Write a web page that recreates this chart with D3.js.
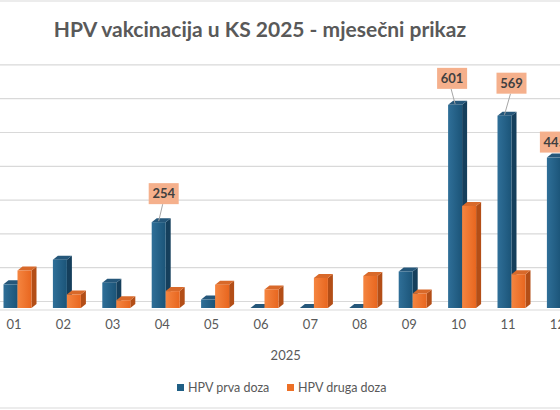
<!doctype html>
<html>
<head>
	<meta charset='utf-8'/>
	<script src="https://d3js.org/d3.v7.min.js"></script>
	<style>
		body { margin: 0; background: #fff; }
		text { font-family: Lato, "Open Sans", sans-serif; }
	</style>
</head>
<body>
	<div id="chart"></div>
	<script>
		// data
		var months = ["01", "02", "03", "04", "05", "06", "07", "08", "09", "10", "11", "12"];
		var series = ["HPV prva doza", "HPV druga doza"];
		var prvaDoza = [70, 143, 75, 254, 25, 0, 0, 0, 108, 601, 569, 445];
		var drugaDoza = [111, 40, 23, 50, 69, 55, 89, 95, 43, 302, 100, 90];
		var yTicks = [0, 100, 200, 300, 400, 500, 600, 700];
		var labelled = ["04", "10", "11", "12"];
		var yearLabel = "2025";
		var title = "HPV vakcinacija u KS 2025 - mjesečni prikaz";

		var width = 560,
			height = 410;
		var depthX = 5, depthY = -4;
		var wallShift = 6.5;

		var svg = d3.select("#chart").append("svg")
			.attr("width", width)
			.attr("height", height);

		var defs = svg.append("defs");
		function grad(id, c1, c2) {
			var g = defs.append("linearGradient").attr("id", id)
				.attr("x1", "0%").attr("x2", "100%").attr("y1", "0%").attr("y2", "0%");
			g.append("stop").attr("offset", "0%").attr("stop-color", c1);
			g.append("stop").attr("offset", "100%").attr("stop-color", c2);
		}
		grad("gBlue", "#2f6f98", "#1b5478");
		grad("gOrange", "#f58540", "#e8661f");

		// chart frame (sides cropped)
		svg.append("rect")
			.attr("x", -2).attr("y", 1)
			.attr("width", width + 4).attr("height", 407)
			.attr("fill", "#fff")
			.attr("stroke", "#d9d9d9");

		var x = d3.scaleBand().domain(months).range([-10.7, 582.1]).padding(0);
		var xs = d3.scaleBand().domain(series).range([-10.5, 17.5]).padding(0);
		var y = d3.scaleLinear().domain([0, 700]).range([308, 308 - 700 * 0.338]);

		// back wall gridlines
		svg.append("g").selectAll("line")
			.data(yTicks)
			.join("line")
			.attr("x1", 0).attr("x2", width)
			.attr("y1", function(d) { return y(d) - wallShift; })
			.attr("y2", function(d) { return y(d) - wallShift; })
			.attr("stroke", "#d9d9d9")
			.attr("stroke-width", 1.2);
		// floor front edge
		svg.append("line")
			.attr("x1", 0).attr("x2", width)
			.attr("y1", y(0) + 2).attr("y2", y(0) + 2)
			.attr("stroke", "#d9d9d9")
			.attr("stroke-width", 1.2);

		var rows = [];
		months.forEach(function(m, i) {
			rows.push({ m: m, s: series[0], v: prvaDoza[i] });
			rows.push({ m: m, s: series[1], v: drugaDoza[i] });
		});

		var faces = {};
		faces[series[0]] = { front: "url(#gBlue)", top: "#25577a", side: "#153f5c" };
		faces[series[1]] = { front: "url(#gOrange)", top: "#d8692a", side: "#b34e17" };

		var bars = svg.append("g").selectAll("g")
			.data(rows)
			.join("g");

		bars.each(function(d) {
			var g = d3.select(this);
			var x0 = x(d.m) + x.bandwidth() / 2 + xs(d.s);
			var w = xs.bandwidth();
			var yt = y(d.v), yb = y(0);
			var f = faces[d.s];
			// side
			g.append("path")
				.attr("d", "M" + (x0 + w) + "," + yt + "L" + (x0 + w + depthX) + "," + (yt + depthY) +
					"L" + (x0 + w + depthX) + "," + (yb + depthY) + "L" + (x0 + w) + "," + yb + "Z")
				.attr("fill", f.side);
			// top
			g.append("path")
				.attr("d", "M" + x0 + "," + yt + "L" + (x0 + depthX) + "," + (yt + depthY) +
					"L" + (x0 + w + depthX) + "," + (yt + depthY) + "L" + (x0 + w) + "," + yt + "Z")
				.attr("fill", f.top);
			// front
			if (d.v > 0) {
				g.append("rect")
					.attr("x", x0).attr("y", yt)
					.attr("width", w).attr("height", yb - yt)
					.attr("fill", f.front);
			}
		});

		// data labels with leader lines
		var labOffset = { "04": [5, 18], "10": [-3, 16], "11": [7, 22], "12": [1, 5] };
		var labs = svg.append("g").selectAll("g")
			.data(labelled)
			.join("g");
		labs.each(function(m) {
			var i = months.indexOf(m);
			var v = prvaDoza[i];
			var bx = x(m) + x.bandwidth() / 2 + xs(series[0]) + xs.bandwidth() / 2;
			var off = labOffset[m];
			var cx = bx + off[0];
			var bottom = y(v) - off[1];
			var g = d3.select(this);
			if (off[1] > 8) {
				g.append("line")
					.attr("x1", cx - 1).attr("y1", bottom)
					.attr("x2", bx).attr("y2", y(v) - 1)
					.attr("stroke", "#a6a6a6")
					.attr("stroke-width", 1);
			}
			g.append("rect")
				.attr("x", cx - 15).attr("y", bottom - 21)
				.attr("width", 30).attr("height", 21)
				.attr("fill", "#f5b08c");
			g.append("text")
				.attr("x", cx).attr("y", bottom - 6)
				.attr("text-anchor", "middle")
				.attr("font-size", 13)
				.attr("font-weight", "bold")
				.attr("fill", "#404040")
				.text(v);
		});

		// x axis labels
		var xAxis = svg.append("g")
			.attr("transform", "translate(0,320)")
			.call(d3.axisBottom(x).tickSize(0).tickPadding(0));
		xAxis.select(".domain").remove();
		xAxis.selectAll("text")
			.attr("font-size", 13)
			.attr("fill", "#595959")
			.style("font-family", "Lato, sans-serif");

		svg.append("text")
			.attr("x", (x.range()[0] + x.range()[1]) / 2)
			.attr("y", 360)
			.attr("text-anchor", "middle")
			.attr("font-size", 13)
			.attr("fill", "#595959")
			.text(yearLabel);

		// title
		svg.append("text")
			.attr("x", 260)
			.attr("y", 37)
			.attr("text-anchor", "middle")
			.attr("font-size", 21)
			.attr("font-weight", "bold")
			.attr("fill", "#595959")
			.text(title);

		// legend
		var legX = [177, 287];
		var legColors = ["#1f5f85", "#ed7026"];
		var leg = svg.append("g").selectAll("g")
			.data(series)
			.join("g")
			.attr("transform", function(d, i) { return "translate(" + legX[i] + ",383)"; });
		leg.append("rect")
			.attr("width", 7).attr("height", 7)
			.attr("y", 1)
			.attr("fill", function(d, i) { return legColors[i]; });
		leg.append("text")
			.attr("x", 11).attr("y", 9)
			.attr("font-size", 12.5)
			.attr("fill", "#595959")
			.text(function(d) { return d; });
	</script>
</body>
</html>
